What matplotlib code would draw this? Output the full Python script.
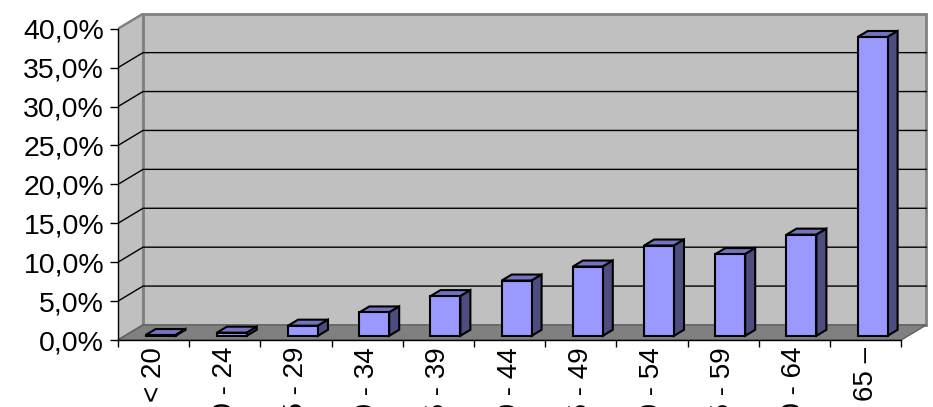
import matplotlib.pyplot as plt
from matplotlib.patches import Polygon
import numpy as np

plt.rcParams['font.family'] = ['Liberation Sans', 'DejaVu Sans']

# age groups and their share (%)
categories = ['< 20', '20 - 24', '25 - 29', '30 - 34', '35 - 39', '40 - 44',
              '45 - 49', '50 - 54', '55 - 59', '60 - 64', '65 –']
shares = [0.1, 0.4, 1.3, 3.0, 5.1, 7.1, 8.9, 11.6, 10.5, 13.0, 38.4]
y_ticks = [0, 5, 10, 15, 20, 25, 30, 35, 40]

n = len(categories)
ymax = 40
# oblique depth of the chart box, in data units
dx, dy = 0.351, 1.93
# bars sit from 28% to 68% of the depth
f0, f1 = 0.28, 0.68
bw = 0.42

fig = plt.figure(figsize=(9.33, 4.07), dpi=100)
ax = fig.add_axes([0.1265, 0.1646, 0.870, 0.803])
ax.set_xlim(0, n + 0.4)
ax.set_ylim(0, 42)

wall = '#c0c0c0'
edge = '#808080'
# left side wall
ax.add_patch(Polygon([(0, 0), (dx, dy), (dx, ymax + dy), (0, ymax)],
                     closed=True, fc=wall, ec=edge, lw=1.5, zorder=1))
# back wall
ax.add_patch(Polygon([(dx, dy), (n + dx, dy), (n + dx, ymax + dy), (dx, ymax + dy)],
                     closed=True, fc=wall, ec=edge, lw=2, zorder=1))
# floor
ax.add_patch(Polygon([(0, 0), (n, 0), (n + dx, dy), (dx, dy)],
                     closed=True, fc='#808080', ec='#606060', lw=1, zorder=2))

# gridlines on side and back walls
for v in y_ticks[1:-1]:
    ax.plot([0, dx, n + dx], [v, v + dy, v + dy], color='black', lw=1, zorder=1.5)
ax.plot([0, dx], [ymax, ymax + dy], color=edge, lw=1.5, zorder=1.5)

# bars: front face, top and side
x = np.arange(n) + 0.5 - bw / 2 + f0 * dx
base = f0 * dy
ddx, ddy = (f1 - f0) * dx, (f1 - f0) * dy
ax.bar(x, shares, width=bw, bottom=base, align='edge', color='#9999ff',
       edgecolor='black', linewidth=1.5, zorder=4)
for xi, v in zip(x, shares):
    top = base + v
    ax.add_patch(Polygon([(xi, top), (xi + bw, top), (xi + bw + ddx, top + ddy), (xi + ddx, top + ddy)],
                         closed=True, fc='#7373c0', ec='black', lw=1.5, zorder=3))
    ax.add_patch(Polygon([(xi + bw, base), (xi + bw + ddx, base + ddy), (xi + bw + ddx, top + ddy), (xi + bw, top)],
                         closed=True, fc='#4d4d80', ec='black', lw=1.5, zorder=3))

# axes
for s in ['top', 'right']:
    ax.spines[s].set_visible(False)
ax.spines['left'].set_bounds(0, ymax)
ax.spines['bottom'].set_bounds(0, n)
for s in ['left', 'bottom']:
    ax.spines[s].set_color('black')
    ax.spines[s].set_linewidth(1)
    ax.spines[s].set_zorder(5)

ax.set_yticks(y_ticks)
ax.set_yticklabels([f'{v:.1f}%'.replace('.', ',') for v in y_ticks], fontsize=20.5)
ax.tick_params(axis='y', direction='out', length=6, width=1, pad=4)

ax.set_xticks(np.arange(n + 1))
ax.set_xticklabels([])
ax.tick_params(axis='x', which='major', direction='out', length=5, width=1)
ax.set_xticks(np.arange(n) + 0.5, minor=True)
ax.set_xticklabels(categories, minor=True, rotation=90, fontsize=20)
ax.tick_params(axis='x', which='minor', length=0, pad=5)

fig.savefig('out.png', dpi=100)
